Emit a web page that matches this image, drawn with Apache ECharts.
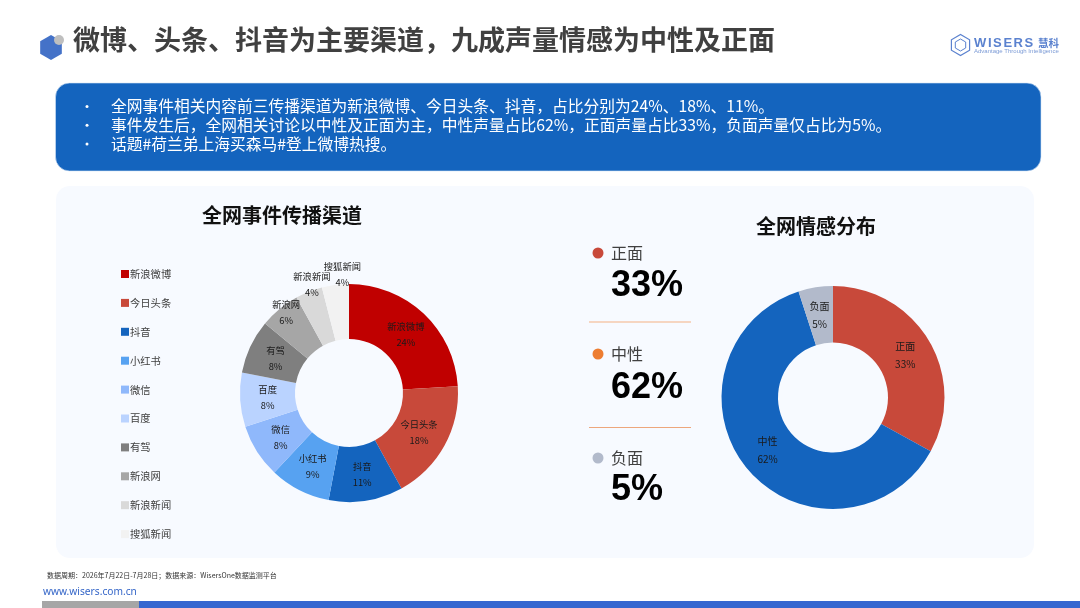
<!DOCTYPE html>
<html><head><meta charset="utf-8">
<style>html,body{margin:0;padding:0;background:#fff}#c{width:1080px;height:608px}</style>
<script src="https://cdn.jsdelivr.net/npm/echarts@6/dist/echarts.min.js"></script>
</head><body><div id="c"></div>
<script>
const headline = '微博、头条、抖音为主要渠道\uFF0C九成声量情感为中性及正面';
const bullets = [
  '全网事件相关内容前三传播渠道为新浪微博、今日头条、抖音\uFF0C占比分别为24%、18%、11%。',
  '事件发生后\uFF0C全网相关讨论以中性及正面为主\uFF0C中性声量占比62%\uFF0C正面声量占比33%\uFF0C负面声量仅占比为5%。',
  '话题#荷兰弟上海买森马#登上微博热搜。'
];
const channelTitle = '全网事件传播渠道';
const sentimentTitle = '全网情感分布';
const channelNames = ['新浪微博','今日头条','抖音','小红书','微信','百度','有驾','新浪网','新浪新闻','搜狐新闻'];
const channelValues = [24,18,11,9,8,8,8,6,4,4];
const channelColors = ['#C00000','#C8493A','#1464BE','#57A2F1','#8FB8FB','#BAD3FF','#7F7F7F','#A6A6A6','#D9D9D9','#F2F2F2'];
const sentimentNames = ['正面','中性','负面'];
const sentimentValues = [33,62,5];
const sentimentColors = ['#C8493A','#1464BE','#B2BACB'];
const sentimentDotColors = ['#C8493A','#ED7D31','#B2BACB'];
const footnote = '数据周期\uFF1A2026年7月22日-7月28日\uFF1B数据来源\uFF1AWisersOne数据监测平台';
const site = 'www.wisers.com.cn';

const CJK = '"Noto Sans CJK SC","Noto Sans",sans-serif';
const ARIAL = '"Liberation Sans",Arial,sans-serif';
const text = (x,y,t,size,color,extra={}) => ({type:'text',x,y,z:5,silent:true,style:Object.assign({text:t,fontSize:size,fill:color,fontFamily:CJK,verticalAlign:'middle'},extra)});
const hex = (cx,cy,r) => { const p=[]; for(let i=0;i<6;i++){const a=Math.PI/3*i+Math.PI/6;p.push([cx+r*Math.cos(a),cy+r*Math.sin(a)]);} return p; };

const graphic = [
  {type:'rect',z:0,silent:true,shape:{x:55.5,y:83,width:985.5,height:88,r:14},style:{fill:'#1464BE',stroke:'#D5E4F5',lineWidth:0.6}},
  {type:'rect',z:0,silent:true,shape:{x:56,y:186,width:978,height:372,r:14},style:{fill:'#F7FAFF'}},
  {type:'polygon',z:1,silent:true,shape:{points:hex(51,47.5,12.5)},style:{fill:'#4472C8'}},
  {type:'circle',z:2,silent:true,shape:{cx:59,cy:40,r:5},style:{fill:'#BFBFBF'}},
  text(73,40,headline,27,'#404040',{fontWeight:'bold'}),
  {type:'polygon',z:1,silent:true,shape:{points:hex(960.5,45,10.5)},style:{fill:'none',stroke:'#5B82CF',lineWidth:1.2}},
  {type:'polygon',z:1,silent:true,shape:{points:hex(960.5,45,6)},style:{fill:'none',stroke:'#5B82CF',lineWidth:1}},
  text(1038,43,'慧科',10.5,'#5B82CF',{fontWeight:'bold'}),
  text(974,51.5,'Advantage Through Intelligence',6,'#7C9BD6',{fontFamily:ARIAL}),
  text(47,575,footnote,7,'#333333'),
  text(43,592,site,10.2,'#3566C8',{fontFamily:'"Noto Sans",sans-serif'}),
  {type:'rect',z:0,silent:true,shape:{x:42,y:601,width:97,height:7},style:{fill:'#A6A6A6'}},
  {type:'rect',z:0,silent:true,shape:{x:139,y:601,width:941,height:7},style:{fill:'#3566D0'}},
  text(282,215,channelTitle,20,'#111111',{fontWeight:'bold',align:'center'}),
  text(816,226,sentimentTitle,20,'#111111',{fontWeight:'bold',align:'center'}),
  {type:'line',z:1,silent:true,shape:{x1:589,y1:322,x2:691,y2:322},style:{stroke:'#F4B183',lineWidth:1}},
  {type:'line',z:1,silent:true,shape:{x1:589,y1:427.5,x2:691,y2:427.5},style:{stroke:'#EDA77C',lineWidth:1}}
];
const logoWord = 'WISERS';
const logoX = [974,988,993,1003.5,1013.5,1024.5];
logoWord.split('').forEach((ch,i)=>graphic.push(text(logoX[i],43,ch,13,'#5B82CF',{fontWeight:'bold',fontFamily:ARIAL})));
bullets.forEach((b,i)=>{
  const y = 106.5 + i*18.7;
  graphic.push({type:'circle',z:5,silent:true,shape:{cx:87,cy:y,r:1.5},style:{fill:'#fff'}});
  graphic.push(text(111,y,b,15.75,'#FFFFFF'));
});
const statY = [253,354,458];
const statValueY = [286.5,388,490.5];
sentimentNames.forEach((n,i)=>{
  graphic.push({type:'circle',z:5,silent:true,shape:{cx:598,cy:statY[i],r:5.5},style:{fill:sentimentDotColors[i]}});
  graphic.push(text(611,statY[i],n,16,'#404040'));
  graphic.push(text(611,statValueY[i],sentimentValues[i]+'%',36,'#000000',{fontWeight:'bold',fontFamily:ARIAL}));
});

const channelLabelShift = [[-1,3.5],[-4,-1],[0,-2],[2,-2],[3,-1],[3,-1],[3,1],[-9,-15],[-6,-29.5],[4,-35]];
const sentimentLabelShift = [[-2,2],[1,-2],[0,2.5]];
const pieLabel = (size,lh) => ({show:true,position:'inside',formatter:'{b}\n{c}%',fontSize:size,lineHeight:lh,color:'#1A1A1A',fontFamily:CJK});
const layoutFrom = shifts => p => ({dx:shifts[p.dataIndex][0],dy:shifts[p.dataIndex][1]});

const chart = echarts.init(document.getElementById('c'),null,{renderer:'canvas'});
chart.setOption({
  animation:false,
  backgroundColor:'#FFFFFF',
  graphic:{elements:graphic},
  legend:{
    orient:'vertical',left:116,top:262,itemWidth:8,itemHeight:8,itemGap:14.9,icon:'rect',
    data:channelNames,selectedMode:false,
    textStyle:{fontSize:10.3,lineHeight:14,color:'#404040',fontFamily:CJK,padding:[0,0,0,-4]}
  },
  series:[
    {type:'pie',name:channelTitle,center:[349,393],radius:[54,109],startAngle:90,clockwise:true,silent:true,
     label:pieLabel(9.3,16),labelLine:{show:false},labelLayout:layoutFrom(channelLabelShift),
     data:channelNames.map((n,i)=>({name:n,value:channelValues[i],itemStyle:{color:channelColors[i]}}))},
    {type:'pie',name:sentimentTitle,center:[833,397.5],radius:[55,111.5],startAngle:90,clockwise:true,silent:true,
     label:pieLabel(10,18),labelLine:{show:false},labelLayout:layoutFrom(sentimentLabelShift),
     data:sentimentNames.map((n,i)=>({name:n,value:sentimentValues[i],itemStyle:{color:sentimentColors[i]}}))}
  ]
});
</script></body></html>
